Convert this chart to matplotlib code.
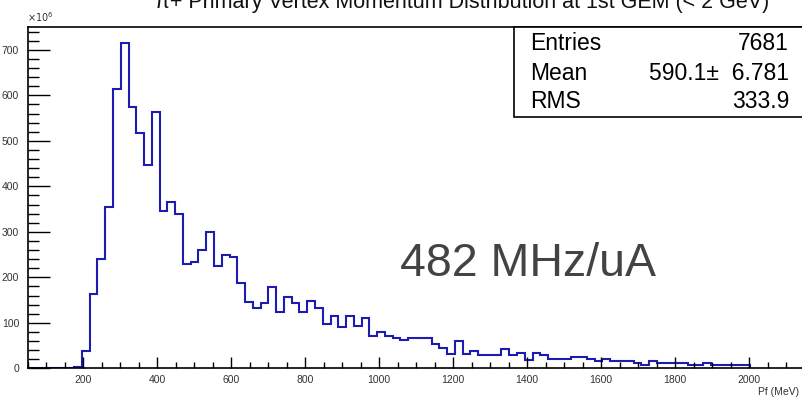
import numpy as np
import matplotlib
matplotlib.use('Agg')
import matplotlib.pyplot as plt
from matplotlib.patches import Rectangle
from matplotlib.ticker import MultipleLocator

plt.rcParams['font.family'] = ['Liberation Sans', 'DejaVu Sans']

# histogram: 21 MeV bins starting at 50 MeV
bin_lo = 50
bin_w = 21
counts = [0, 0, 0, 0, 0, 0, 2,
          39, 163, 241, 354, 614, 716, 575, 517, 447, 564,
          346, 365, 340, 229, 234, 261, 300, 225, 248, 245,
          187, 146, 132, 143, 178, 123, 156, 143, 123, 148,
          133, 97, 115, 90, 115, 94, 110, 72, 80, 71,
          66, 62, 67, 67, 67, 54, 45, 31, 61, 32,
          38, 29, 29, 29, 42, 29, 34, 19, 34, 30,
          20, 20, 20, 24, 24, 20, 16, 20, 16, 16,
          16, 12, 7, 16, 11, 11, 12, 12, 7, 7,
          12, 7, 7, 7, 7, 7]
edges = bin_lo + bin_w * np.arange(len(counts) + 1)

stat_names = ['Entries', 'Mean', 'RMS']
stat_vals = ['7681', '590.1\u00b1  6.781', '333.9']

W, H = 802, 398
fig = plt.figure(figsize=(W / 100, H / 100), dpi=100)

def fx(px):
    return px / W

def fy(py):
    return 1 - py / H

ax = fig.add_axes([fx(27.5), fy(368.3), fx(777), (368.3 - 26.7) / H])
ax.stairs(counts, edges, color='#1c1cb0', lw=1.5, baseline=0)
ax.set_xlim(50, 2150)
ax.set_ylim(0, 751)

ax.xaxis.set_major_locator(MultipleLocator(200))
ax.xaxis.set_minor_locator(MultipleLocator(50))
ax.yaxis.set_major_locator(MultipleLocator(100))
ax.yaxis.set_minor_locator(MultipleLocator(20))
ax.tick_params(which='both', direction='in', top=False, right=False,
               labelsize=7.5, labelcolor='#333333', width=1.0)
ax.tick_params(axis='x', which='major', length=8, pad=5)
ax.tick_params(axis='x', which='minor', length=4)
ax.tick_params(axis='y', which='major', length=16, pad=6)
ax.tick_params(axis='y', which='minor', length=8)
for s in ax.spines.values():
    s.set_linewidth(1.2)

fig.text(fx(27), fy(22), r'$\times10^{6}$', fontsize=7, color='#333333',
         ha='left', va='baseline')
fig.text(fx(799), fy(392), 'Pf (MeV)', fontsize=7.5, color='#333333',
         ha='right', va='center')

fig.text(fx(462), fy(8), '\u03c0+ Primary Vertex Momentum Distribution at 1st GEM (< 2 GeV)',
         fontsize=15.5, ha='center', va='baseline', color='#111111')

# stats box
box = Rectangle((fx(514.3), fy(116.7)), fx(400), (116.7 - 26.7) / H,
                transform=fig.transFigure, fill=True, facecolor='white',
                edgecolor='black', lw=1.2, zorder=5)
fig.patches.append(box)
for name, val, py in zip(stat_names, stat_vals, [43.5, 73, 101]):
    fig.text(fx(530), fy(py), name, fontsize=16.5, ha='left', va='center', zorder=6)
    fig.text(fx(789), fy(py), val, fontsize=16.5, ha='right', va='center', zorder=6)

fig.text(fx(400), fy(264), '482 MHz/uA', fontsize=33.5, color='#434343',
         ha='left', va='center')

fig.savefig('out.png', dpi=100)
